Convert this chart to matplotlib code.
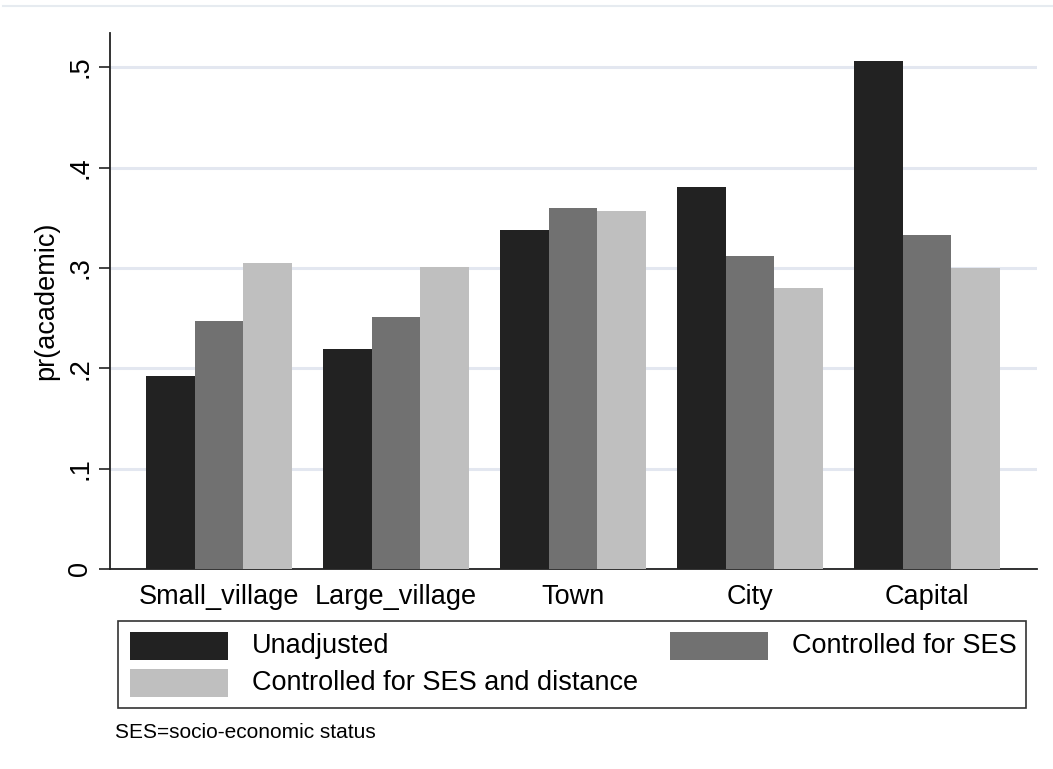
import matplotlib
matplotlib.use("Agg")
import matplotlib.pyplot as plt
from matplotlib.patches import Rectangle
from matplotlib.lines import Line2D
import numpy as np

plt.rcParams['font.family'] = ['Liberation Sans', 'DejaVu Sans']

categories = ["Small_village", "Large_village", "Town", "City", "Capital"]
series_names = ["Unadjusted", "Controlled for SES", "Controlled for SES and distance"]
unadjusted = [0.192, 0.219, 0.338, 0.381, 0.506]
controlled_ses = [0.247, 0.251, 0.360, 0.312, 0.333]
controlled_ses_dist = [0.305, 0.301, 0.357, 0.280, 0.300]
yticks = [0, 0.1, 0.2, 0.3, 0.4, 0.5]
ytick_labels = ["0", ".1", ".2", ".3", ".4", ".5"]
footnote = "SES=socio-economic status"
ylabel = "pr(academic)"

colors = ["#222222", "#717171", "#bfbfbf"]
grid_color = "#e3e7f0"

W, H = 1053, 769
fig = plt.figure(figsize=(W / 100, H / 100), dpi=100)
fig.patch.set_facecolor("white")

def fx(px):
    return px / W

def fy(py):
    return 1 - py / H

ax = fig.add_axes([fx(110), fy(569), fx(1037) - fx(110), fy(33) - fy(569)])

x = np.arange(len(categories))
w = 0.2746
series = [unadjusted, controlled_ses, controlled_ses_dist]
for i, (vals, col) in enumerate(zip(series, colors)):
    ax.bar(x + (i - 1) * w, vals, width=w, color=col, edgecolor="none", zorder=3)

FS = 19.5
ax.set_xlim(-0.616, 4.621)
ax.set_ylim(0, 0.534)
ax.set_yticks(yticks)
ax.set_yticklabels(ytick_labels, rotation=90, va="center", fontsize=FS)
ax.yaxis.grid(True, color=grid_color, linewidth=2.2, zorder=0)
ax.set_axisbelow(True)
ax.set_xticks(x)
ax.set_xticklabels(categories, fontsize=FS)
ax.tick_params(axis="x", length=0, pad=11)
ax.tick_params(axis="y", length=8, width=1.2, color="#222222", pad=4)
for s in ["top", "right"]:
    ax.spines[s].set_visible(False)
for s in ["left", "bottom"]:
    ax.spines[s].set_linewidth(1.3)
    ax.spines[s].set_color("#222222")
ax.set_ylabel(ylabel, fontsize=FS, labelpad=6)

# legend box (manual)
fig.add_artist(Rectangle((fx(118), fy(708)), fx(1026) - fx(118), fy(621) - fy(708),
                         transform=fig.transFigure, facecolor="white",
                         edgecolor="#333333", linewidth=1.2))
legend_pos = [(130, 632, 252), (670, 632, 792), (130, 669, 252)]
for (hx, hy, tx), name, col in zip(legend_pos, series_names, colors):
    fig.add_artist(Rectangle((fx(hx), fy(hy + 28)), fx(98), 28 / H,
                             transform=fig.transFigure, facecolor=col, edgecolor="none"))
    fig.text(fx(tx), fy(hy + 14), name, fontsize=FS, va="center", ha="left")

fig.text(fx(115), fy(733), footnote, fontsize=15, va="center", ha="left")

# faint top line
fig.add_artist(Line2D([fx(3), 1], [fy(6), fy(6)], transform=fig.transFigure,
                      color="#e6ebf0", linewidth=1.5))

fig.savefig("out.png", dpi=100)
